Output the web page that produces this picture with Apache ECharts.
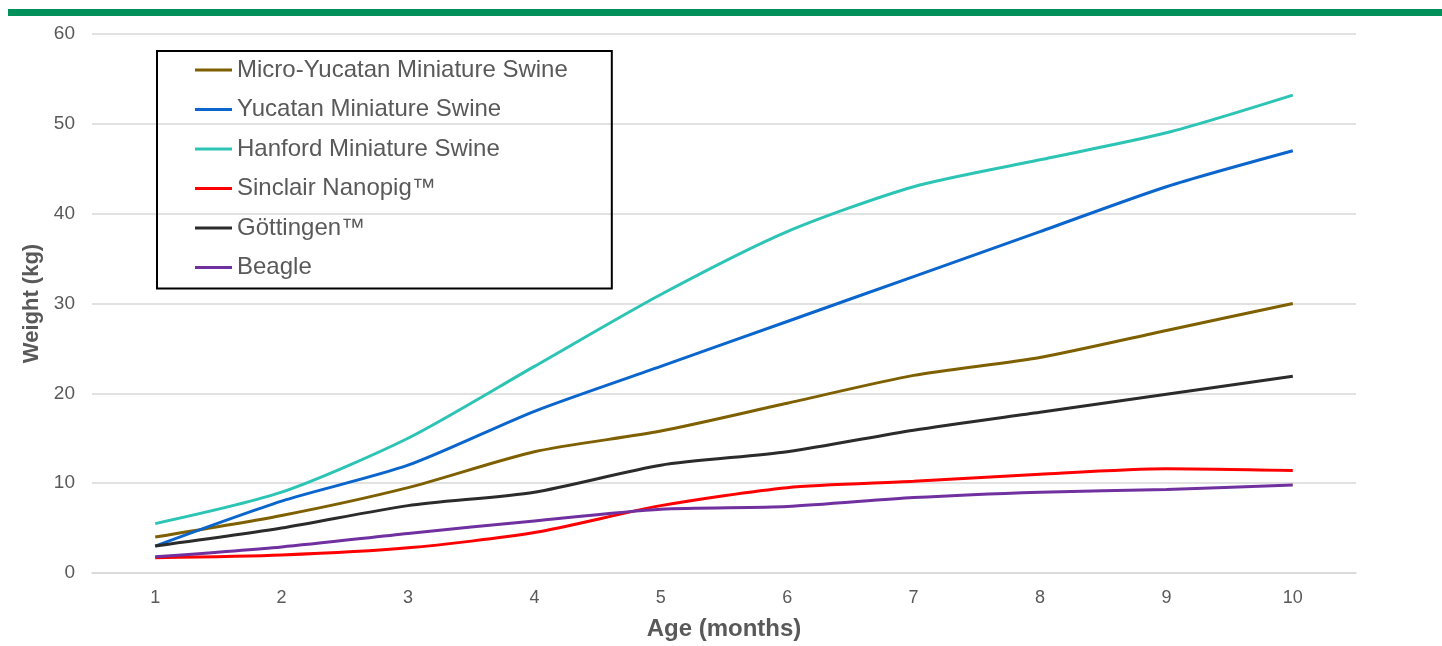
<!DOCTYPE html>
<html>
<head>
<meta charset="utf-8">
<script src="https://cdn.jsdelivr.net/npm/echarts@6/dist/echarts.min.js"></script>
<style>
html,body{margin:0;padding:0;background:#fff;}
#chart{width:1442px;height:646px;}
</style>
</head>
<body>
<div id="chart"></div>
<script>
const categories = ['1','2','3','4','5','6','7','8','9','10'];
const seriesNames = ['Micro-Yucatan Miniature Swine','Yucatan Miniature Swine','Hanford Miniature Swine','Sinclair Nanopig\u2122','G\u00f6ttingen\u2122','Beagle'];
const microYucatan = [4, 6.4, 9.5, 13.5, 15.8, 18.9, 22, 24, 27, 30];
const yucatan = [3, 8, 12, 18, 23, 28, 33, 38, 43, 47];
const hanford = [5.5, 9, 15, 23, 31, 38, 43, 46, 49, 53.2];
const sinclair = [1.7, 2, 2.8, 4.5, 7.5, 9.5, 10.2, 11, 11.6, 11.4];
const gottingen = [3, 5, 7.5, 9, 12, 13.5, 15.9, 17.9, 19.9, 21.9];
const beagle = [1.8, 2.9, 4.4, 5.8, 7.1, 7.4, 8.4, 9, 9.3, 9.8];
const colors = ['#7F6000','#0A66CC','#2CC4B4','#FF0000','#2B2B2B','#7030A0'];
const allData = [microYucatan, yucatan, hanford, sinclair, gottingen, beagle];

const chart = echarts.init(document.getElementById('chart'));
chart.setOption({
  animation: false,
  graphic: [{
    type: 'rect', left: 8, top: 9,
    shape: {width: 1434, height: 7},
    style: {fill: '#00915A'}
  }],
  grid: {left: 92, right: 86, top: 34, bottom: 72.5},
  legend: {
    orient: 'vertical',
    left: 157, top: 51,
    data: seriesNames,
    icon: 'rect',
    itemWidth: 37, itemHeight: 3,
    itemGap: 15.5,
    borderColor: '#000', borderWidth: 2,
    padding: [7, 44, 9, 38],
    textStyle: {fontFamily: 'Liberation Sans, Arial', fontSize: 24, color: '#595959', lineHeight: 24}
  },
  xAxis: {
    type: 'category',
    data: categories,
    boundaryGap: true,
    name: 'Age (months)',
    nameLocation: 'middle',
    nameGap: 44,
    nameTextStyle: {fontFamily: 'Liberation Sans, Arial', fontSize: 24, fontWeight: 'bold', color: '#595959'},
    axisLine: {show: true, lineStyle: {color: '#d9d9d9', width: 1.5}},
    axisTick: {show: false},
    axisLabel: {fontFamily: 'Liberation Sans, Arial', fontSize: 18, color: '#595959', margin: 16}
  },
  yAxis: {
    type: 'value',
    min: 0, max: 60, interval: 10,
    name: 'Weight (kg)',
    nameLocation: 'middle',
    nameGap: 38,
    nameRotate: 90,
    nameTextStyle: {fontFamily: 'Liberation Sans, Arial', fontSize: 22, fontWeight: 'bold', color: '#595959'},
    axisLine: {show: false},
    axisTick: {show: false},
    axisLabel: {fontFamily: 'Liberation Sans, Arial', fontSize: 19, color: '#595959', margin: 17},
    splitLine: {lineStyle: {color: '#d9d9d9', width: 1.5}}
  },
  series: seriesNames.map((n, i) => ({
    name: n,
    type: 'line',
    data: allData[i],
    smooth: 0.25,
    symbol: 'none',
    itemStyle: {color: colors[i]},
    lineStyle: {color: colors[i], width: 3}
  }))
});
</script>
</body>
</html>
